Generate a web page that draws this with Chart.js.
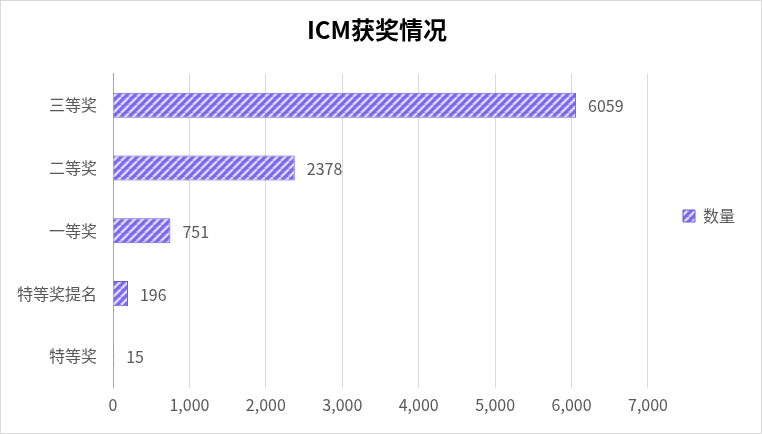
<!DOCTYPE html>
<html><head><meta charset="utf-8">
<script src="https://cdn.jsdelivr.net/npm/chart.js@4"></script>
<style>html,body{margin:0;padding:0;background:#fff}#w{position:absolute;left:0;top:0;width:760px;height:432px;border:1px solid #d9d9d9}</style>
</head><body><div id="w"><canvas id="c"></canvas></div>
<script>
const categories=["三等奖","二等奖","一等奖","特等奖提名","特等奖"];
const values=[6059,2378,751,196,15];
const seriesName="数量";
const xTicks=[0,1000,2000,3000,4000,5000,6000,7000];
function pat(){const c=document.createElement('canvas');c.width=8;c.height=8;const g=c.getContext('2d');g.fillStyle='#7b68ee';g.fillRect(0,0,8,8);g.strokeStyle='#dcd7fb';g.lineWidth=2.5;g.beginPath();for(let k=-8;k<=16;k+=8){g.moveTo(k,8);g.lineTo(k+8,0);}g.stroke();return g.createPattern(c,'repeat');}
const P=pat();
const font="'Microsoft YaHei','Noto Sans CJK SC',sans-serif";
const labels={id:'lbl',afterDatasetsDraw(ch){const g=ch.ctx;const m=ch.getDatasetMeta(0);g.save();g.fillStyle='#595959';g.font="16px "+font;g.textBaseline='middle';m.data.forEach((b,i)=>{g.fillText(values[i],b.x+12,b.y+1);});g.restore();}};
new Chart(document.getElementById('c'),{type:'bar',data:{labels:categories,datasets:[{label:seriesName,data:values,backgroundColor:P,borderColor:'#6a5acd',borderWidth:1,barPercentage:0.4,categoryPercentage:1}]},
options:{indexAxis:'y',responsive:true,maintainAspectRatio:false,animation:false,
layout:{padding:{left:8,right:16,top:8,bottom:10}},
plugins:{title:{display:true,text:'ICM获奖情况',color:'#000',font:{family:font,size:24},padding:{top:6,bottom:30}},
legend:{position:'right',labels:{color:'#595959',font:{family:font,size:16},boxWidth:12,boxHeight:12,padding:35}},tooltip:{enabled:false}},
scales:{x:{min:0,max:7000,afterBuildTicks(a){a.ticks=xTicks.map(v=>({value:v}));},grid:{color:'#d9d9d9',drawTicks:false},border:{display:false},ticks:{color:'#595959',font:{family:font,size:16},padding:8}},
y:{grid:{display:false},border:{color:'#a6a6a6'},ticks:{color:'#595959',font:{family:font,size:16},padding:8}}}},
plugins:[labels]});
</script></body></html>
